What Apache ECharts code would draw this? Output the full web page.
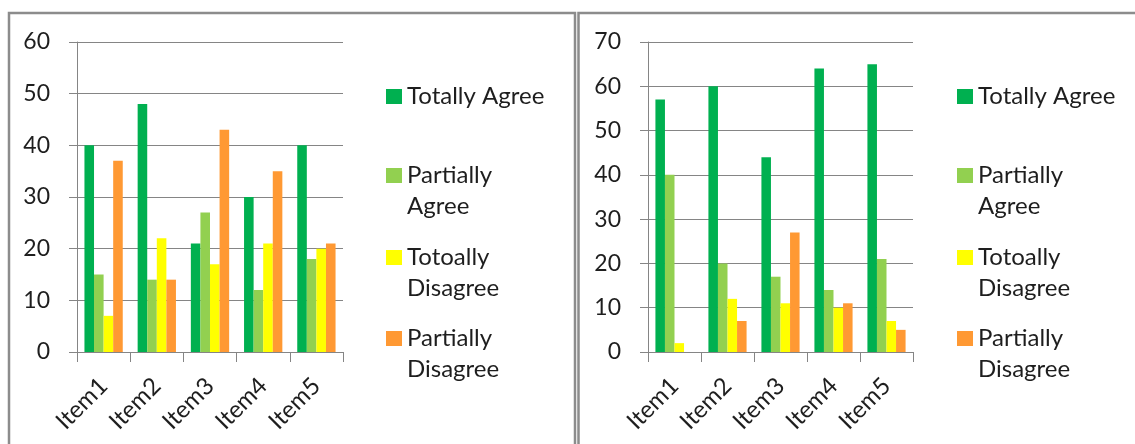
<!DOCTYPE html>
<html><head><meta charset="utf-8">
<script src="https://cdn.jsdelivr.net/npm/echarts@6/dist/echarts.min.js"></script>
<style>html,body{margin:0;padding:0;background:#fff;overflow:hidden}#c{width:1135px;height:444px}</style>
</head><body><div id="c"></div>
<script>
// ---- data ----
const categories = ['Item1', 'Item2', 'Item3', 'Item4', 'Item5'];
const seriesNames = ['Totally Agree', 'Partially Agree', 'Totoally Disagree', 'Partially Disagree'];
const legendLabels = ['Totally Agree', 'Partially\nAgree', 'Totoally\nDisagree', 'Partially\nDisagree'];

const leftTotallyAgree = [40, 48, 21, 30, 40];
const leftPartiallyAgree = [15, 14, 27, 12, 18];
const leftTotoallyDisagree = [7, 22, 17, 21, 20];
const leftPartiallyDisagree = [37, 14, 43, 35, 21];

const rightTotallyAgree = [57, 60, 44, 64, 65];
const rightPartiallyAgree = [40, 20, 17, 14, 21];
const rightTotoallyDisagree = [2, 12, 11, 10, 7];
const rightPartiallyDisagree = [0, 7, 27, 11, 5];

const leftYTicks = [0, 10, 20, 30, 40, 50, 60];
const rightYTicks = [0, 10, 20, 30, 40, 50, 60, 70];

// ---- styling ----
const colors = ['#00B050', '#92D050', '#FFFF00', '#FF9933'];
const FONT = 'Lato';
const TXT = '#1e1e1e';
const GRID_C = '#858585';

const leftData = [leftTotallyAgree, leftPartiallyAgree, leftTotoallyDisagree, leftPartiallyDisagree];
const rightData = [rightTotallyAgree, rightPartiallyAgree, rightTotoallyDisagree, rightPartiallyDisagree];

const chart = echarts.init(document.getElementById('c'), null, {renderer: 'canvas'});

function xAxisCfg(gridIndex) {
  return {
    type: 'category', gridIndex, data: categories, boundaryGap: true,
    axisLine: {show: true, lineStyle: {color: GRID_C, width: 1}},
    axisTick: {show: true, length: 10, lineStyle: {color: GRID_C}},
    axisLabel: {
      rotate: 45, margin: 30,
      fontFamily: FONT, fontSize: 24, color: TXT, interval: 0
    },
    splitLine: {show: false}
  };
}
function yAxisCfg(gridIndex, ticks) {
  return {
    type: 'value', gridIndex,
    min: ticks[0], max: ticks[ticks.length - 1], interval: ticks[1] - ticks[0],
    axisLine: {show: true, lineStyle: {color: GRID_C, width: 1}},
    axisTick: {show: true, length: 8, lineStyle: {color: GRID_C}},
    axisLabel: {margin: 27, fontFamily: FONT, fontSize: 23, color: TXT},
    splitLine: {show: true, lineStyle: {color: GRID_C, width: 1}}
  };
}

const series = [];
[leftData, rightData].forEach((set, gi) => {
  set.forEach((vals, si) => {
    series.push({
      type: 'bar', name: seriesNames[si], xAxisIndex: gi, yAxisIndex: gi,
      data: vals, barGap: '0%', barCategoryGap: '28%',
      itemStyle: {color: colors[si]},
      silent: true
    });
  });
});

const legendTops = [81, 129, 211, 292];
const legends = [];
[386, 957].forEach(left => {
  seriesNames.forEach((nm, i) => {
    legends.push({
      data: [nm], orient: 'vertical', left: left, top: legendTops[i],
      padding: 0, itemWidth: 16, itemHeight: 15, icon: 'rect',
      selectedMode: false,
      formatter: () => (legendLabels[i].indexOf('\n') >= 0 ? ' \n' : '') + legendLabels[i],
      textStyle: {fontFamily: FONT, fontSize: 24, color: TXT, lineHeight: 31}
    });
  });
});

chart.setOption({
  animation: false,
  backgroundColor: '#fff',
  color: colors,
  grid: [
    {left: 77, top: 42, width: 266, height: 310},
    {left: 648, top: 42, width: 265, height: 310}
  ],
  xAxis: [xAxisCfg(0), xAxisCfg(1)],
  yAxis: [yAxisCfg(0, leftYTicks), yAxisCfg(1, rightYTicks)],
  legend: legends,
  series: series,
  graphic: [
    {type: 'rect', shape: {x: 9, y: 13, width: 566, height: 500}, style: {fill: 'none', stroke: '#8c8c8c', lineWidth: 2.5}, silent: true},
    {type: 'rect', shape: {x: 578.5, y: 13, width: 700, height: 500}, style: {fill: 'none', stroke: '#8c8c8c', lineWidth: 2.5}, silent: true}
  ]
});
</script></body></html>
